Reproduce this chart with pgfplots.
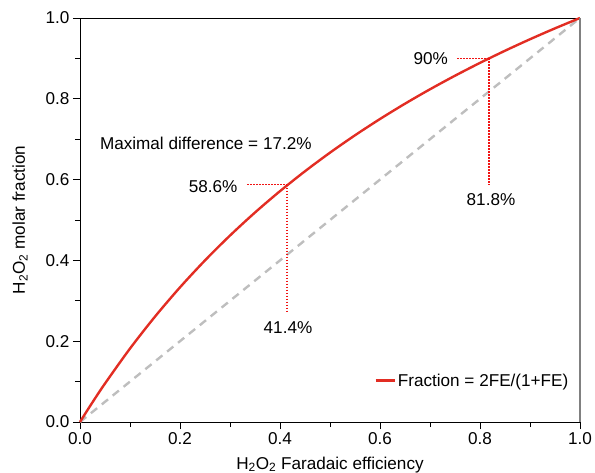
\documentclass[border=0pt]{standalone}
\usepackage{fontspec}
\setmainfont{Liberation Sans}
\usepackage{pgfplots}
\pgfplotsset{compat=1.18}
\definecolor{curvered}{RGB}{226,45,35}
\definecolor{dotred}{RGB}{240,20,20}
\definecolor{dashgray}{RGB}{190,190,190}
\newcommand{\fs}{\fontsize{17.2}{20}\selectfont}
\begin{document}
\begin{tikzpicture}[x=1bp,y=1bp]
\begin{axis}[
  name=ax,
  scale only axis,
  width=500bp, height=404bp,
  xmin=0, xmax=1, ymin=0, ymax=1,
  xtick={0,0.2,...,1.0}, ytick={0,0.2,...,1.0},
  minor xtick={0.1,0.3,0.5,0.7,0.9},
  minor ytick={0.1,0.3,0.5,0.7,0.9},
  xtick pos=bottom, ytick pos=left,
  tick align=outside,
  major tick length=7bp, minor tick length=5bp,
  tick style={black, line width=0.7pt},
  xticklabel style={/pgf/number format/fixed,/pgf/number format/fixed zerofill,/pgf/number format/precision=1},
  yticklabel style={/pgf/number format/fixed,/pgf/number format/fixed zerofill,/pgf/number format/precision=1},
  /pgf/number format/assume math mode=true,
  ticklabel style={font=\fs},
  label style={font=\fs},
  xlabel={H\textsubscript{2}O\textsubscript{2} Faradaic efficiency},
  ylabel={H\textsubscript{2}O\textsubscript{2} molar fraction},
  xlabel style={at={(axis description cs:0.5,-0.106)}, anchor=center},
  ylabel style={at={(axis description cs:-0.12,0.5)}, anchor=center},
  axis line style={line width=0.8pt, black},
  legend style={draw=none, fill=none, at={(0.983,0.102)}, anchor=east, font=\fs, inner sep=1bp},
  legend cell align=left,
  legend image code/.code={\draw[#1, line width=2.6pt] (0bp,0bp) -- (19bp,0bp);},
  clip=false,
]
\addplot[dashgray, line width=2.4pt, dash pattern=on 8bp off 6bp, forget plot] coordinates {(0,0) (1,1)};
\addplot[curvered, line width=2.4pt, smooth] coordinates {
(0,0) (0.01,0.0198) (0.025,0.04878) (0.05,0.09524) (0.1,0.18182) (0.15,0.26087)
(0.2,0.33333) (0.25,0.4) (0.3,0.46154) (0.35,0.51852) (0.4,0.57143) (0.45,0.62069)
(0.5,0.66667) (0.55,0.70968) (0.6,0.75) (0.65,0.78788) (0.7,0.82353) (0.75,0.85714)
(0.8,0.88889) (0.85,0.91892) (0.9,0.94737) (0.95,0.97436) (1,1)};
\addlegendentry{Fraction = 2FE/(1+FE)}
\addplot[color=dotred, line width=1.2pt, dash pattern=on 1.5bp off 1.5bp, forget plot] coordinates {(0.334,0.5875) (0.414,0.5875)};
\addplot[color=dotred, line width=1.2pt, dash pattern=on 1.5bp off 1.5bp, forget plot] coordinates {(0.414,0.5875) (0.414,0.27)};
\addplot[color=dotred, line width=1.2pt, dash pattern=on 1.5bp off 1.5bp, forget plot] coordinates {(0.754,0.9) (0.818,0.9)};
\addplot[color=dotred, line width=1.2pt, dash pattern=on 1.5bp off 1.5bp, forget plot] coordinates {(0.818,0.9) (0.818,0.587)};
\draw[gray, line width=1.2pt] (axis cs:1,0) -- (axis cs:1,1);
\node[anchor=east, font=\fs] at (axis cs:0.322,0.582) {58.6\%};
\node[anchor=north, font=\fs] at (axis cs:0.416,0.257) {41.4\%};
\node[anchor=east, font=\fs] at (axis cs:0.743,0.9) {90\%};
\node[anchor=north, font=\fs] at (axis cs:0.822,0.573) {81.8\%};
\node[anchor=west, font=\fs] at (axis cs:0.033,0.689) {Maximal difference = 17.2\%};
\end{axis}
\pgfresetboundingbox
\path[use as bounding box] ([xshift=-80bp,yshift=-51bp]ax.south west) rectangle ([xshift=15bp,yshift=18bp]ax.north east);
\end{tikzpicture}
\end{document}
